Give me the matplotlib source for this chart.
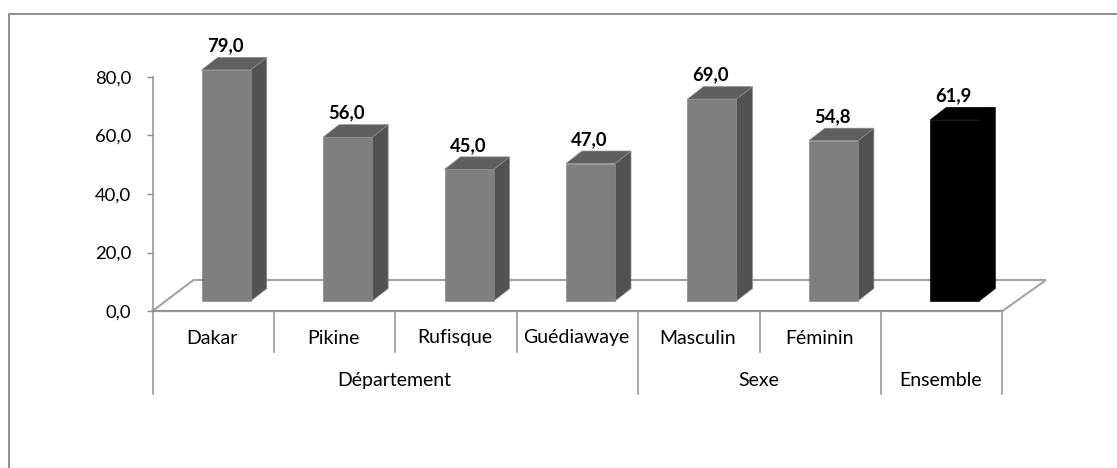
import matplotlib
matplotlib.use("Agg")
import matplotlib.pyplot as plt
from matplotlib.lines import Line2D

categories = ["Dakar", "Pikine", "Rufisque", "Guédiawaye", "Masculin", "Féminin", ""]
values = [79.0, 56.0, 45.0, 47.0, 69.0, 54.8, 61.9]
value_labels = ["79,0", "56,0", "45,0", "47,0", "69,0", "54,8", "61,9"]
groups = [("Département", 0, 4), ("Sexe", 4, 6), ("Ensemble", 6, 7)]
yticks = [0, 20, 40, 60, 80]
ytick_labels = ["0,0", "20,0", "40,0", "60,0", "80,0"]

W, H = 1117, 468
plt.rcParams["font.family"] = ["Lato", "DejaVu Sans"]
fig = plt.figure(figsize=(W / 100, H / 100), dpi=100)
L, R, T, B = 152.5, 1002.5, 77, 311
ax = fig.add_axes([L / W, 1 - B / H, (R - L) / W, (B - T) / H])
ax.set_xlim(0, 7)
ax.set_ylim(0, 80)
for s in ["top", "right", "bottom"]:
    ax.spines[s].set_visible(False)
GRAY = "#8f8f8f"
ax.spines["left"].set_color(GRAY)
ax.spines["left"].set_linewidth(1.1)
ax.set_xticks([])
ax.set_yticks(yticks, ytick_labels, fontsize=13.3, color="#000000")
ax.tick_params(axis="y", length=4.3, width=1.0, color=GRAY, pad=11.2)

px_x = 7 / (R - L)
px_y = 80 / (B - T)
pt = 0.72

# floor
fx = [0, 41 * px_x, 7 + 43.5 * px_x, 7, 0]
fy = [0, 31 * px_y, 31 * px_y, 0, 0]
ax.plot(fx, fy, color="#a3a3a3", lw=1.5, clip_on=False, zorder=1, solid_joinstyle="miter")
ax.plot([0, 7], [0, 0], color="#949494", lw=1.5, clip_on=False, zorder=1.5)

# 3D bars
base = 10 * px_y
width = 49 * px_x
dx = 16 * px_x
dy = 12.5 * px_y
shift = 13 * px_x
for i, (v, lab) in enumerate(zip(values, value_labels)):
    black = i == len(values) - 1
    front = "#000000" if black else "#7f7f7f"
    side = "#000000" if black else "#525252"
    top = "#000000" if black else "#5f5f5f"
    edge = "#000000" if black else "#8a8a8a"
    x0 = i + 0.5 + shift - width / 2
    x1 = x0 + width
    yt = base + v
    ax.fill([x1, x1 + dx, x1 + dx, x1], [base, base + dy, yt + dy, yt],
            facecolor=side, edgecolor=edge, lw=0.5, zorder=3, clip_on=False)
    ax.fill([x0, x1, x1 + dx, x0 + dx], [yt, yt, yt + dy, yt + dy],
            facecolor=top, edgecolor=edge, lw=0.5, zorder=3, clip_on=False)
    ax.bar(x0, v, width=width, bottom=base, align="edge", color=front,
           edgecolor=edge, linewidth=0.5, zorder=4, clip_on=False)
    ax.annotate(lab, (x0 + width / 2, yt), xytext=(-1 * pt, 24 * pt), textcoords="offset points",
                ha="center", va="center", fontsize=13.3, fontweight="bold", color="black",
                annotation_clip=False, zorder=5)

# category axis
long_seps = [g[1] for g in groups] + [groups[-1][2]]
for i in range(8):
    yb = (394 if i in long_seps else 352) - B
    ax.plot([i, i], [0, -yb * px_y], color=GRAY, lw=1.1, clip_on=False, zorder=1.5)
for i, c in enumerate(categories):
    if c:
        ax.annotate(c, (i + 0.5, 0), xytext=(-1 * pt, -27 * pt), textcoords="offset points",
                    ha="center", va="center", fontsize=14, color="#000000", annotation_clip=False)
for name, a, b in groups:
    ax.annotate(name, ((a + b) / 2, 0), xytext=(-1 * pt, -69.5 * pt), textcoords="offset points",
                ha="center", va="center", fontsize=14, color="#000000", annotation_clip=False)

# chart frame (top and left edges only)
fig.add_artist(Line2D([9 / W, 9 / W], [0, 1 - 13.5 / H], color=GRAY, lw=1.4))
fig.add_artist(Line2D([9 / W, 1], [1 - 13.5 / H, 1 - 13.5 / H], color=GRAY, lw=1.4))

fig.savefig("out.png", dpi=100)
